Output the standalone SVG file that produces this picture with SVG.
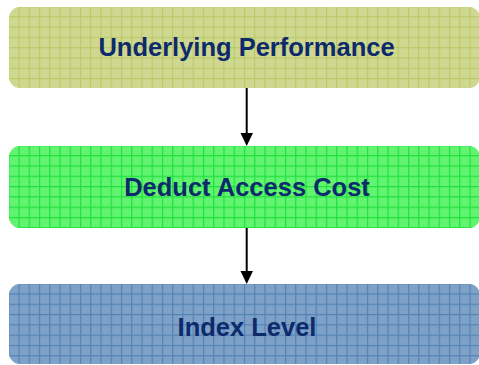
<svg xmlns="http://www.w3.org/2000/svg" width="479" height="365" viewBox="0 0 479 365">
  <style>
    .label { font-family: "Liberation Sans", Arial, Helvetica, sans-serif; font-weight: bold; font-size: 25.5px; fill: #0D2A6C; text-anchor: middle; }
    .conn { stroke: #000000; stroke-width: 2; fill: none; }
    .head { fill: #000000; }
  </style>
  <defs>
    <pattern id="gridA" patternUnits="userSpaceOnUse" x="18.4" y="16.2" width="10.25" height="10.3">
      <rect x="0" y="0" width="1.2" height="10.3" fill="#BCC968"/>
      <rect x="0" y="0" width="10.25" height="1.2" fill="#BCC968"/>
    </pattern>
    <pattern id="gridB" patternUnits="userSpaceOnUse" x="18.4" y="155.1" width="10.25" height="10.3">
      <rect x="0" y="0" width="1.2" height="10.3" fill="#1FE03E"/>
      <rect x="0" y="0" width="10.25" height="1.2" fill="#1FE03E"/>
    </pattern>
    <pattern id="gridC" patternUnits="userSpaceOnUse" x="18.4" y="293.4" width="10.25" height="10.3">
      <rect x="0" y="0" width="1.2" height="10.3" fill="#5383B4"/>
      <rect x="0" y="0" width="10.25" height="1.2" fill="#5383B4"/>
    </pattern>
  </defs>

  <g id="node-underlying-performance">
    <rect x="9" y="7" width="471" height="81" rx="11" fill="#CFD890"/>
    <rect x="9" y="7" width="471" height="81" rx="11" fill="url(#gridA)"/>
    <text class="label" x="246.5" y="56">Underlying Performance</text>
  </g>

  <g id="node-deduct-access-cost">
    <rect x="9" y="146" width="471" height="82" rx="11" fill="#62F470"/>
    <rect x="9" y="146" width="471" height="82" rx="11" fill="url(#gridB)"/>
    <text class="label" x="247" y="196">Deduct Access Cost</text>
  </g>

  <g id="node-index-level">
    <rect x="9" y="284" width="471" height="80" rx="11" fill="#7EA1C8"/>
    <rect x="9" y="284" width="471" height="80" rx="11" fill="url(#gridC)"/>
    <text class="label" x="247" y="336">Index Level</text>
  </g>

  <g id="connectors">
    <line class="conn" x1="246.7" y1="88" x2="246.7" y2="134"/>
    <polygon class="head" points="240.5,133 253,133 246.7,146"/>
    <line class="conn" x1="246.7" y1="228" x2="246.7" y2="272"/>
    <polygon class="head" points="240.5,271 253,271 246.7,284"/>
  </g>
</svg>
